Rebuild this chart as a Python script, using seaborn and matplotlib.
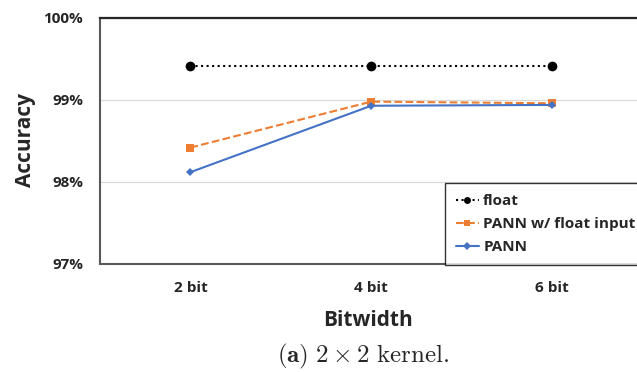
import matplotlib
matplotlib.use("Agg")
import matplotlib.pyplot as plt
import seaborn as sns
import pandas as pd
from matplotlib.ticker import FuncFormatter

categories = ["2 bit", "4 bit", "6 bit"]
float_acc = [99.41, 99.41, 99.41]
pann_float_input = [98.42, 98.98, 98.96]
pann = [98.12, 98.93, 98.94]
y_ticks = [97, 98, 99, 100]

sns.set_theme(style="white")
plt.rcParams['font.family'] = ['Open Sans', 'DejaVu Sans']
plt.rcParams['mathtext.fontset'] = 'cm'

fig = plt.figure(figsize=(6.37, 3.72), dpi=100)
ax = fig.add_axes([100/637, 108/372, 542.5/637, 246/372])

series = [
    ("float", float_acc, "black", ":", "o", 7),
    ("PANN w/ float input", pann_float_input, "#ED7D31", "--", "s", 6),
    ("PANN", pann, "#4472C4", "-", "D", 4.5),
]
for name, vals, color, ls, mk, ms in series:
    df = pd.DataFrame({"x": categories, "y": vals})
    sns.lineplot(data=df, x="x", y="y", ax=ax, color=color, linestyle=ls,
                 marker=mk, markersize=ms, markeredgewidth=0, linewidth=1.5,
                 label=name, sort=False)

ax.set_xlim(-0.5, 2.5)
ax.set_ylim(97, 100)
ax.set_yticks(y_ticks)
ax.yaxis.set_major_formatter(FuncFormatter(lambda v, p: f"{v:.0f}%"))
ax.grid(axis="y", color="#D9D9D9", linewidth=0.9)
ax.set_axisbelow(True)
for s in ["left", "bottom"]:
    ax.spines[s].set_color("#595959")
    ax.spines[s].set_linewidth(1.5)
ax.spines["top"].set_color("#262626")
ax.spines["top"].set_linewidth(1.6)
ax.spines["right"].set_visible(False)
ax.tick_params(axis="both", length=0, labelsize=11, pad=12)
for lab in ax.get_xticklabels() + ax.get_yticklabels():
    lab.set_fontweight("bold")
ax.set_xlabel("")
ax.set_ylabel("")

fig.text(26/637, 1 - 140/372, "Accuracy", rotation=90, ha="center", va="center",
         fontsize=15, fontweight="bold")
fig.text(368/637, 1 - 321/372, "Bitwidth", ha="center", va="center",
         fontsize=15, fontweight="bold")
fig.text(363/637, 1 - 356/372, r"$\mathbf{(a)}\ 2\times 2\ \mathrm{kernel.}$",
         ha="center", va="center", fontsize=18)

leg = ax.legend(loc="lower left", bbox_to_anchor=(445/637, 107/372),
                bbox_transform=fig.transFigure, frameon=True, fancybox=False,
                edgecolor="black", fontsize=11, handlelength=1.5,
                handletextpad=0.3, borderpad=0.7, labelspacing=0.6,
                borderaxespad=0)
leg.get_frame().set_linewidth(1.0)
for t in leg.get_texts():
    t.set_fontweight("bold")
ms_leg = [5, 5, 4]
for h, m in zip(leg.legend_handles, ms_leg):
    h.set_markersize(m)

fig.savefig("out.png", dpi=100)
